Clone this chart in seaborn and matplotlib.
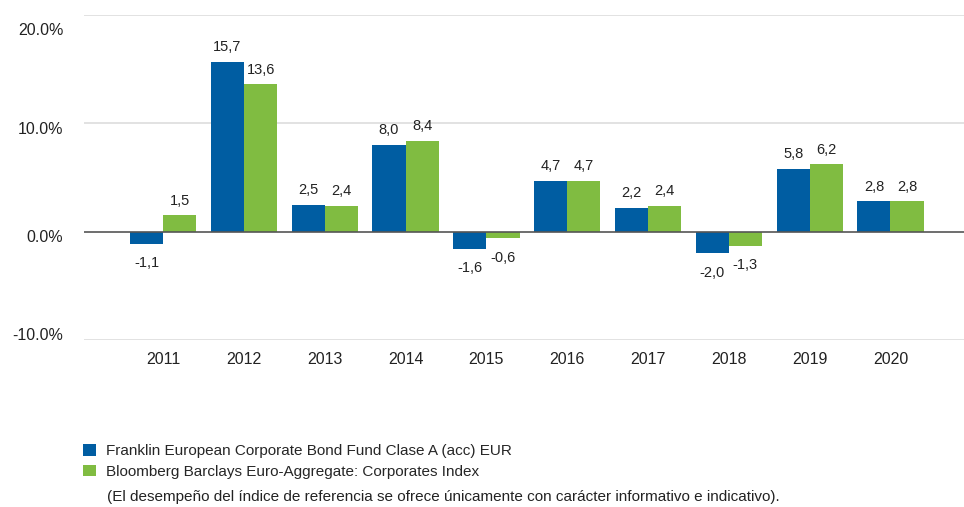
import matplotlib
matplotlib.use("Agg")
import matplotlib.pyplot as plt
import matplotlib.transforms as mtransforms
import seaborn as sns
import pandas as pd
from matplotlib.patches import Patch

years = ["2011", "2012", "2013", "2014", "2015", "2016", "2017", "2018", "2019", "2020"]
fund = [-1.1, 15.7, 2.5, 8.0, -1.6, 4.7, 2.2, -2.0, 5.8, 2.8]
index = [1.5, 13.6, 2.4, 8.4, -0.6, 4.7, 2.4, -1.3, 6.2, 2.8]
series_names = ["Franklin European Corporate Bond Fund Clase A (acc) EUR",
                "Bloomberg Barclays Euro-Aggregate: Corporates Index"]
yticks = [-10, 0, 10, 20]
footnote = "(El desempeño del índice de referencia se ofrece únicamente con carácter informativo e indicativo)."

colors = ["#005DA2", "#80BC41"]

df = pd.DataFrame({
    "year": years * 2,
    "value": fund + index,
    "series": [series_names[0]] * len(years) + [series_names[1]] * len(years),
})

sns.set_theme(style="white")
plt.rcParams["font.family"] = ["Liberation Sans", "DejaVu Sans"]

fig = plt.figure(figsize=(9.64, 5.07), dpi=100)
ax = fig.add_axes([84 / 964, 1 - 340 / 507, 1 - 84 / 964, (340 - 15) / 507])

sns.barplot(data=df, x="year", y="value", hue="series", palette=colors,
            width=0.82, ax=ax, saturation=1, legend=False, edgecolor="none")

ax.set_ylim(-10, 20)
ax.set_xlim(-0.98, 9.91)
ax.set_yticks(yticks)
ax.set_yticklabels([f"{t:.1f}%" for t in yticks], fontsize=11.5, color="#222222")
ax.tick_params(axis="y", length=0, pad=15)
ax.tick_params(axis="x", length=0, pad=9, labelsize=11.5, labelcolor="#222222")
ax.set_xlabel("")
ax.set_ylabel("")
for s in ax.spines.values():
    s.set_visible(False)
for t in yticks:
    if t == 0:
        ax.axhline(0, color="#555555", lw=1.2, zorder=3)
    else:
        ax.axhline(t, color="#dddddd", lw=1.2, zorder=0)

# label vertical offsets (pixels downward) as in the reference rendering
label_shift = {-10: -6, 0: 4, 10: 5, 20: 14}
for t, lab in zip(yticks, ax.get_yticklabels()):
    off = mtransforms.ScaledTranslation(0, -label_shift[t] / 100, fig.dpi_scale_trans)
    lab.set_transform(lab.get_transform() + off)

for container in ax.containers:
    for bar in container:
        h = bar.get_height()
        x = bar.get_x() + bar.get_width() / 2
        lab = f"{h:.1f}".replace(".", ",")
        if h >= 0:
            ax.annotate(lab, (x, h), xytext=(0, 5.5), textcoords="offset points",
                        ha="center", va="bottom", fontsize=10.5, color="#222222")
        else:
            ax.annotate(lab, (x, h), xytext=(0, -9), textcoords="offset points",
                        ha="center", va="top", fontsize=10.5, color="#222222")

handles = [Patch(facecolor=c, edgecolor="none") for c in colors]
fig.legend(handles, series_names, loc="upper left", bbox_to_anchor=(77 / 964, 1 - 438 / 507),
           frameon=False, fontsize=11, handlelength=0.82, handleheight=0.8,
           handletextpad=0.7, labelspacing=0.42, borderaxespad=0)
fig.text(107 / 964, 1 - 497 / 507, footnote, fontsize=11, va="center", ha="left", color="#222222")

fig.savefig("out.png", dpi=100)
